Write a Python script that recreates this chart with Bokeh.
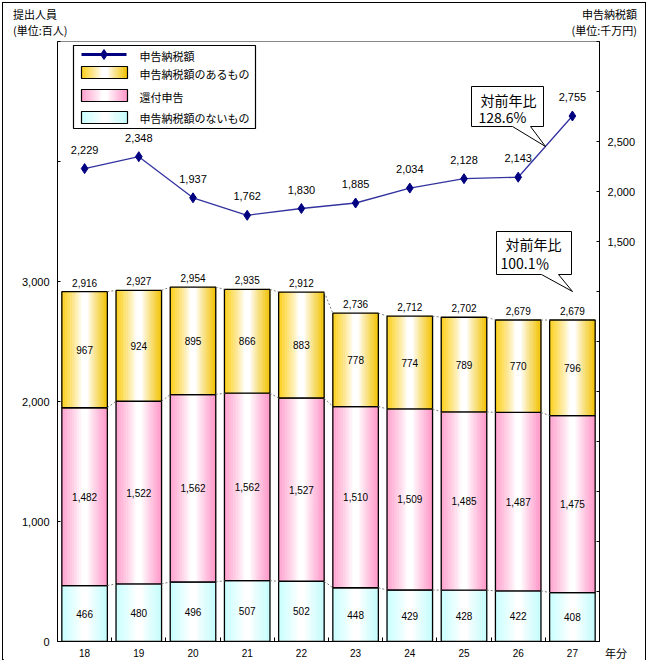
from bokeh.plotting import figure
from bokeh.models import (Range1d, LinearAxis, FixedTicker, CustomJSTickFormatter,
                          ColumnDataSource, Label, Div)
from bokeh.layouts import column, row
from bokeh.core.properties import value
from bokeh.embed import file_html
from bokeh.resources import INLINE

# ---------------- data ----------------
years = ["18", "19", "20", "21", "22", "23", "24", "25", "26", "27"]
no_tax = [466, 480, 496, 507, 502, 448, 429, 428, 422, 408]          # 申告納税額のないもの
refund = [1482, 1522, 1562, 1562, 1527, 1510, 1509, 1485, 1487, 1475]  # 還付申告
with_tax = [967, 924, 895, 866, 883, 778, 774, 789, 770, 796]        # 申告納税額のあるもの
totals = [2916, 2927, 2954, 2935, 2912, 2736, 2712, 2702, 2679, 2679]
tax_amount = [2229, 2348, 1937, 1762, 1830, 1885, 2034, 2128, 2143, 2755]  # 申告納税額
ratio_tax = "128.6%"
ratio_people = "100.1％"

JP = "Noto Sans CJK JP"
NUM = "Liberation Sans"

# page layout (picture pixels)
OX, OY = 3, 3                 # content origin inside the border
HEAD = 36                     # header height
FX0, FX1, FY0, FY1 = 57.0, 599.0, 41.0, 641.0
W = 642
PY = OY + HEAD                # figure top
H = 662 - PY                  # figure height

p = figure(width=W, height=H, x_range=Range1d(-0.5, 9.5), y_range=Range1d(0, 5000),
           output_backend="svg", toolbar_location=None,
           min_border_left=int(FX0 - OX), min_border_right=int(W - (FX1 - OX)),
           min_border_top=int(FY0 - PY), min_border_bottom=int(H - (FY1 - PY)))
p.margin = (0, 0, 0, 0)
p.extra_y_ranges = {"right": Range1d(-2500, 3500)}
p.grid.visible = False
p.outline_line_color = "#888888"
p.background_fill_color = "white"

def px2x(px):
    return (px - FX0) / (FX1 - FX0) * 10 - 0.5
def py2y(py):
    return (FY1 - py) / (FY1 - FY0) * 5000

n = len(years)
xs = list(range(n))
bw = 0.84

lvl0 = no_tax
lvl1 = [a + b for a, b in zip(no_tax, refund)]
lvl2 = [a + b for a, b in zip(lvl1, with_tax)]

def shade(edge_l, edge_r, f):
    if f < 0.45:
        w = (0.45 - f) / 0.45
        c = edge_l
    elif f > 0.57:
        w = (f - 0.57) / 0.43
        c = edge_r
    else:
        w = 0.0
        c = edge_l
    w = w ** 0.85
    r = int(round(255 + (c[0] - 255) * w))
    g = int(round(255 + (c[1] - 255) * w))
    b = int(round(255 + (c[2] - 255) * w))
    return "#%02x%02x%02x" % (r, g, b)

NS = 26
def strips(lefts, rights, bottoms, tops, el, er):
    d = dict(left=[], right=[], bottom=[], top=[], color=[])
    for L, R, B, T in zip(lefts, rights, bottoms, tops):
        step = (R - L) / NS
        for k in range(NS):
            d["left"].append(L + k * step)
            d["right"].append(L + (k + 1) * step)
            d["bottom"].append(B)
            d["top"].append(T)
            d["color"].append(shade(el, er, (k + 0.5) / NS))
    return d

YEL_L, YEL_R = (252, 206, 20), (242, 194, 0)
PNK_L, PNK_R = (255, 160, 205), (255, 150, 200)
CYN_L, CYN_R = (200, 255, 255), (196, 252, 252)

lefts = [x - bw / 2 for x in xs]
rights = [x + bw / 2 for x in xs]
segments = [
    ([0] * n, lvl0, CYN_L, CYN_R),
    (lvl0, lvl1, PNK_L, PNK_R),
    (lvl1, lvl2, YEL_L, YEL_R),
]
for bots, tops, el, er in segments:
    src = ColumnDataSource(strips(lefts, rights, bots, tops, el, er))
    p.quad(left="left", right="right", bottom="bottom", top="top", source=src,
           fill_color="color", line_color="color", line_width=0.6)
    p.quad(left=lefts, right=rights, bottom=bots, top=tops, fill_alpha=0,
           line_color="black", line_width=1.3)

# dashed connectors between bars
cx0, cy0, cx1, cy1 = [], [], [], []
for lv in (lvl0, lvl1, lvl2):
    for i in range(n - 1):
        cx0.append(xs[i] + bw / 2); cy0.append(lv[i])
        cx1.append(xs[i + 1] - bw / 2); cy1.append(lv[i + 1])
p.segment(cx0, cy0, cx1, cy1, line_color="#808080", line_width=1, line_dash="2 2")

def fmt(v):
    return "{:,}".format(v)
lab = ColumnDataSource(dict(
    x=xs * 3,
    y=[a / 2 for a in lvl0] + [(a + b) / 2 for a, b in zip(lvl0, lvl1)] + [(a + b) / 2 for a, b in zip(lvl1, lvl2)],
    t=[fmt(v) for v in no_tax] + [fmt(v) for v in refund] + [fmt(v) for v in with_tax],
))
p.text(x="x", y="y", text="t", source=lab, text_align="center", text_baseline="middle",
       text_font=value(NUM), text_font_size="10px", text_color="black")
p.text(x=xs, y=lvl2, text=[fmt(v) for v in totals], y_offset=-9, text_align="center",
       text_baseline="middle", text_font=value(NUM), text_font_size="10px", text_color="black")

# tax amount line
p.line(xs, tax_amount, y_range_name="right", line_color="#3333a0", line_width=1.3)
p.scatter(xs, tax_amount, y_range_name="right", marker="diamond", size=10,
          fill_color="#000080", line_color="#000080")
p.text(x=xs, y=tax_amount, y_range_name="right", text=[fmt(v) for v in tax_amount],
       y_offset=-19, text_align="center", text_baseline="middle",
       text_font=value(NUM), text_font_size="11px", text_color="black")

# axes
ly = p.yaxis[0]
ly.ticker = FixedTicker(ticks=[0, 1000, 2000, 3000, 4000, 5000])
ly.formatter = CustomJSTickFormatter(code="return tick <= 3000 ? tick.toLocaleString('en-US') : '';")
ry = LinearAxis(y_range_name="right",
                ticker=FixedTicker(ticks=list(range(-2500, 3501, 500))),
                formatter=CustomJSTickFormatter(code="return (tick >= 1500 && tick <= 2500) ? tick.toLocaleString('en-US') : '';"))
p.add_layout(ry, "right")
for ax in (ly, ry):
    ax.axis_line_color = "black"
    ax.major_tick_in = 3
    ax.major_tick_out = 0
    ax.minor_tick_line_color = None
    ax.major_label_standoff = 8
    ax.major_label_text_font = NUM
    ax.major_label_text_font_size = "11px"
    ax.major_label_text_color = "black"

bx = p.xaxis[0]
bx.ticker = FixedTicker(ticks=xs, minor_ticks=[i - 0.5 for i in range(n + 1)])
bx.major_label_overrides = {i: years[i] for i in xs}
bx.major_tick_in = 0
bx.major_tick_out = 0
bx.minor_tick_in = 4
bx.minor_tick_out = 0
bx.axis_line_color = "black"
bx.major_label_standoff = 7
bx.major_label_text_font = NUM
bx.major_label_text_font_size = "10px"
bx.major_label_text_color = "black"

# legend (manual)
p.quad(left=[px2x(73)], right=[px2x(255)], top=[py2y(45)], bottom=[py2y(128)],
       fill_color="white", line_color="black", line_width=1.2)
p.line([px2x(81), px2x(126)], [py2y(54), py2y(54)], line_color="#000080", line_width=3)
p.scatter([px2x(103.5)], [py2y(54)], marker="diamond", size=10, fill_color="#000080", line_color="#000080")
sw = [(66, 78, YEL_L, YEL_R), (89, 101, PNK_L, PNK_R), (111, 123, CYN_L, CYN_R)]
for t0, t1, el, er in sw:
    src = ColumnDataSource(strips([px2x(81)], [px2x(127)], [py2y(t1)], [py2y(t0)], el, er))
    p.quad(left="left", right="right", bottom="bottom", top="top", source=src,
           fill_color="color", line_color="color", line_width=0.6)
    p.quad(left=[px2x(81)], right=[px2x(127)], bottom=[py2y(t1)], top=[py2y(t0)],
           fill_alpha=0, line_color="black", line_width=1.2)
leg_names = ["申告納税額", "申告納税額のあるもの", "還付申告", "申告納税額のないもの"]
leg_y = [55, 73, 96, 117]
p.text(x=[px2x(139)] * 4, y=[py2y(v) for v in leg_y], text=leg_names, text_align="left",
       text_baseline="middle", text_font=value(JP), text_font_size="11px", text_color="black")

# callouts
def callout(l, r, t, b, b0, b1, tipx, tipy, lines):
    xs_ = [px2x(l), px2x(r), px2x(r), px2x(b1), px2x(tipx), px2x(b0), px2x(l)]
    ys_ = [py2y(t), py2y(t), py2y(b), py2y(b), py2y(tipy), py2y(b), py2y(b)]
    p.patch(xs_, ys_, fill_color="white", line_color="black", line_width=1)
    for (txt, py, pxx) in lines:
        p.add_layout(Label(x=px2x(pxx), y=py2y(py), text=txt, text_font=JP, text_font_size="14px",
                           text_baseline="middle", text_align="left", text_color="black"))

callout(471, 543, 86, 126, 512, 530, 545, 146,
        [("対前年比", 99, 480), (ratio_tax, 116, 478)])
callout(496, 571, 231, 274, 541, 558, 572, 291,
        [("対前年比", 243, 505), (ratio_people, 262, 500)])

# unit labels as HTML outside the plot canvas
TXT = "font-family:'Noto Sans CJK JP';font-size:11px;line-height:16px;height:16px;color:black;white-space:nowrap;"
head_l = Div(text=(f"<div style=\"padding:3px 0 0 10px;\"><div style=\"{TXT}\">提出人員</div>"
                   f"<div style=\"{TXT}\">(単位:百人)</div></div>"),
             width=300, height=HEAD, margin=(0, 0, 0, 0))
head_r = Div(text=(f"<div style=\"padding:3px 4px 0 0;text-align:right;width:338px;\">"
                   f"<div style=\"{TXT}\">申告納税額</div><div style=\"{TXT}\">(単位:千万円)</div></div>"),
             width=W - 300, height=HEAD, margin=(0, 0, 0, 0))
foot = Div(text=f"<div style=\"{TXT}\">年分</div>", width=30, height=14, margin=(-17, 0, 0, 602))

layout = column(row(head_l, head_r, margin=(0, 0, 0, 0)), p, foot)
layout.margin = (2, 0, 0, 2)
layout.styles = {"border": "1px solid black"}

open("out.html", "w").write(file_html(layout, INLINE))
